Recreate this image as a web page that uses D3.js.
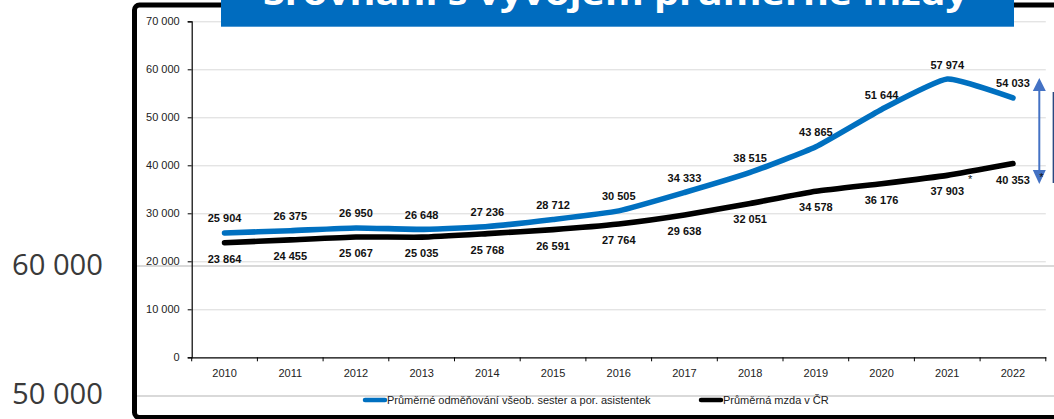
<!DOCTYPE html>
<html lang="cs">
<head>
<meta charset="utf-8">
<script src="https://cdn.jsdelivr.net/npm/d3@7"></script>
<style>
  html, body { margin: 0; padding: 0; background: #fff; }
  svg { display: block; }
</style>
</head>
<body>
<svg id="chart" width="1054" height="419"></svg>
<script>
// Roky a hodnoty (Kč měsíčně)
const years = ["2010","2011","2012","2013","2014","2015","2016","2017","2018","2019","2020","2021","2022"];
const nurses = [25904, 26375, 26950, 26648, 27236, 28712, 30505, 34333, 38515, 43865, 51644, 57974, 54033];
const wages  = [23864, 24455, 25067, 25035, 25768, 26591, 27764, 29638, 32051, 34578, 36176, 37903, 40353];
const yTicks = [0, 10000, 20000, 30000, 40000, 50000, 60000, 70000];
const sideLabels = ["60 000", "50 000"];
const seriesNames = ["Průměrné odměňování všeob. sester a por. asistentek", "Průměrná mzda v ČR"];
const title = "Srovnání s vývojem průměrné mzdy";

const BLUE = "#0070C0";
const svg = d3.select("#chart");
const font = "'Liberation Sans', Arial, sans-serif";

const cz = d3.formatLocale({ decimal: ",", thousands: " ", grouping: [3], currency: ["", " Kč"] });
const fmt = cz.format(",d");

// Plot geometry
const plot = { left: 191.7, right: 1045.8, top: 21.3, bottom: 357.3 };
const x = d3.scaleBand().domain(years).range([plot.left, plot.right]).padding(0);
const y = d3.scaleLinear().domain([0, 70000]).range([plot.bottom, plot.top]);
const cx = d => x(d) + x.bandwidth() / 2;

// Large labels of the slide behind the chart
svg.append("g").selectAll("text").data(sideLabels).join("text")
  .attr("x", 103).attr("y", (d, i) => i === 0 ? 275 : 404)
  .attr("text-anchor", "end")
  .attr("font-family", "'Open Sans', sans-serif").attr("font-size", 29.5)
  .attr("textLength", 91).attr("lengthAdjust", "spacingAndGlyphs")
  .attr("fill", "#3a3a3a").text(d => d);

// Chart frame
svg.append("rect")
  .attr("x", 134.5).attr("y", 5).attr("width", 960).attr("height", 412.5)
  .attr("rx", 5).attr("fill", "#fff").attr("stroke", "#000").attr("stroke-width", 5);

// Gridlines of the slide behind, visible through the chart
svg.append("g").selectAll("line").data([266, 396]).join("line")
  .attr("x1", 137).attr("x2", 1054).attr("y1", d => d).attr("y2", d => d)
  .attr("stroke", "#d9d9d9").attr("stroke-width", 2);

// Horizontal gridlines
svg.append("g")
  .attr("transform", `translate(${plot.left},0)`)
  .call(d3.axisLeft(y).tickValues(yTicks.filter(v => v > 0)).tickSize(-(plot.right - plot.left)).tickFormat(""))
  .call(g => g.select(".domain").remove())
  .call(g => g.selectAll("line").attr("stroke", "#d9d9d9").attr("stroke-width", 1));

// Y axis
svg.append("g")
  .attr("transform", `translate(${plot.left},0)`)
  .call(d3.axisLeft(y).tickValues(yTicks).tickSize(4).tickPadding(8).tickFormat(fmt))
  .call(g => g.select(".domain").attr("stroke", "#000").attr("stroke-width", 1.2))
  .call(g => g.selectAll("line").attr("stroke", "#000"))
  .call(g => g.selectAll("text").attr("font-family", font).attr("font-size", 11).attr("fill", "#222"));

// X axis: labels at band centres, tick marks at band boundaries
const xAxis = svg.append("g").attr("transform", `translate(0,${plot.bottom})`);
xAxis.call(d3.axisBottom(x).tickSize(0).tickPadding(12))
  .call(g => g.select(".domain").attr("stroke", "#000").attr("stroke-width", 1.2))
  .call(g => g.selectAll("text").attr("font-family", font).attr("font-size", 11).attr("fill", "#222"));
xAxis.selectAll("line.bound").data(years.map(d => x(d)).concat([x.range()[1]])).join("line")
  .attr("class", "bound")
  .attr("x1", d => d).attr("x2", d => d).attr("y1", 0).attr("y2", 4)
  .attr("stroke", "#000");

// Lines (smoothed)
const line = d3.line()
  .x((d, i) => cx(years[i]))
  .y(d => y(d))
  .curve(d3.curveCardinal.tension(0.55));

svg.append("path").datum(wages).attr("d", line)
  .attr("fill", "none").attr("stroke", "#000").attr("stroke-width", 5.6).attr("stroke-linecap", "round");
svg.append("path").datum(nurses).attr("d", line)
  .attr("fill", "none").attr("stroke", BLUE).attr("stroke-width", 5.6).attr("stroke-linecap", "round");

// Data labels
const labelFont = g => g.attr("font-family", font).attr("font-size", 11).attr("font-weight", "bold")
  .attr("fill", "#111").attr("text-anchor", "middle");
svg.append("g").selectAll("text").data(nurses).join("text")
  .attr("x", (d, i) => cx(years[i])).attr("y", d => y(d) - 10.5)
  .text(d => fmt(d)).call(labelFont);
svg.append("g").selectAll("text").data(wages).join("text")
  .attr("x", (d, i) => cx(years[i])).attr("y", d => y(d) + 20)
  .text(d => fmt(d)).call(labelFont);

// Footnote markers
svg.append("text").attr("x", cx("2021") + 23).attr("y", y(wages[11]) + 8)
  .attr("font-family", font).attr("font-size", 11).attr("fill", "#111").attr("text-anchor", "middle").text("*");

// Gap arrow between the two series in 2022
const ax = 1039.3, aTop = 78, aBot = 184, AB = "#4472C4";
svg.append("line").attr("x1", ax).attr("x2", ax).attr("y1", aTop + 10).attr("y2", aBot - 10)
  .attr("stroke", AB).attr("stroke-width", 2);
svg.append("path").attr("d", `M${ax},${aTop} L${ax - 6.5},${aTop + 13} L${ax + 6.5},${aTop + 13} Z`).attr("fill", AB);
svg.append("path").attr("d", `M${ax},${aBot} L${ax - 6.5},${aBot - 14} L${ax + 6.5},${aBot - 14} Z`).attr("fill", AB);
svg.append("text").attr("x", ax + 2).attr("y", 181)
  .attr("font-family", font).attr("font-size", 11).attr("fill", "#111").attr("text-anchor", "middle").text("*");
svg.append("line").attr("x1", 1053.3).attr("x2", 1053.3).attr("y1", 92).attr("y2", 183)
  .attr("stroke", "#1f3f7a").attr("stroke-width", 1.3);

// Legend
const legend = svg.append("g").attr("transform", "translate(0,400)");
const legendItems = [
  { name: seriesNames[0], color: BLUE, x0: 363 },
  { name: seriesNames[1], color: "#000", x0: 699 }
];
legendItems.forEach(it => {
  legend.append("line").attr("x1", it.x0 + 2).attr("x2", it.x0 + 22).attr("y1", 0).attr("y2", 0)
    .attr("stroke", it.color).attr("stroke-width", 4.5).attr("stroke-linecap", "round");
  legend.append("text").attr("x", it.x0 + 24).attr("y", 4)
    .attr("font-family", font).attr("font-size", 11).attr("fill", "#222").text(it.name);
});

// Title banner (the heading runs off the top edge of the slide)
svg.append("rect").attr("x", 221).attr("y", 0).attr("width", 793).attr("height", 26.7).attr("fill", "#006CBF");
svg.append("text").attr("x", 615.5).attr("y", 5)
  .attr("text-anchor", "middle")
  .attr("font-family", "'Open Sans', sans-serif").attr("font-weight", "bold").attr("font-size", 34)
  .attr("textLength", 705).attr("lengthAdjust", "spacingAndGlyphs")
  .attr("fill", "#fff").text(title);
</script>
</body>
</html>
